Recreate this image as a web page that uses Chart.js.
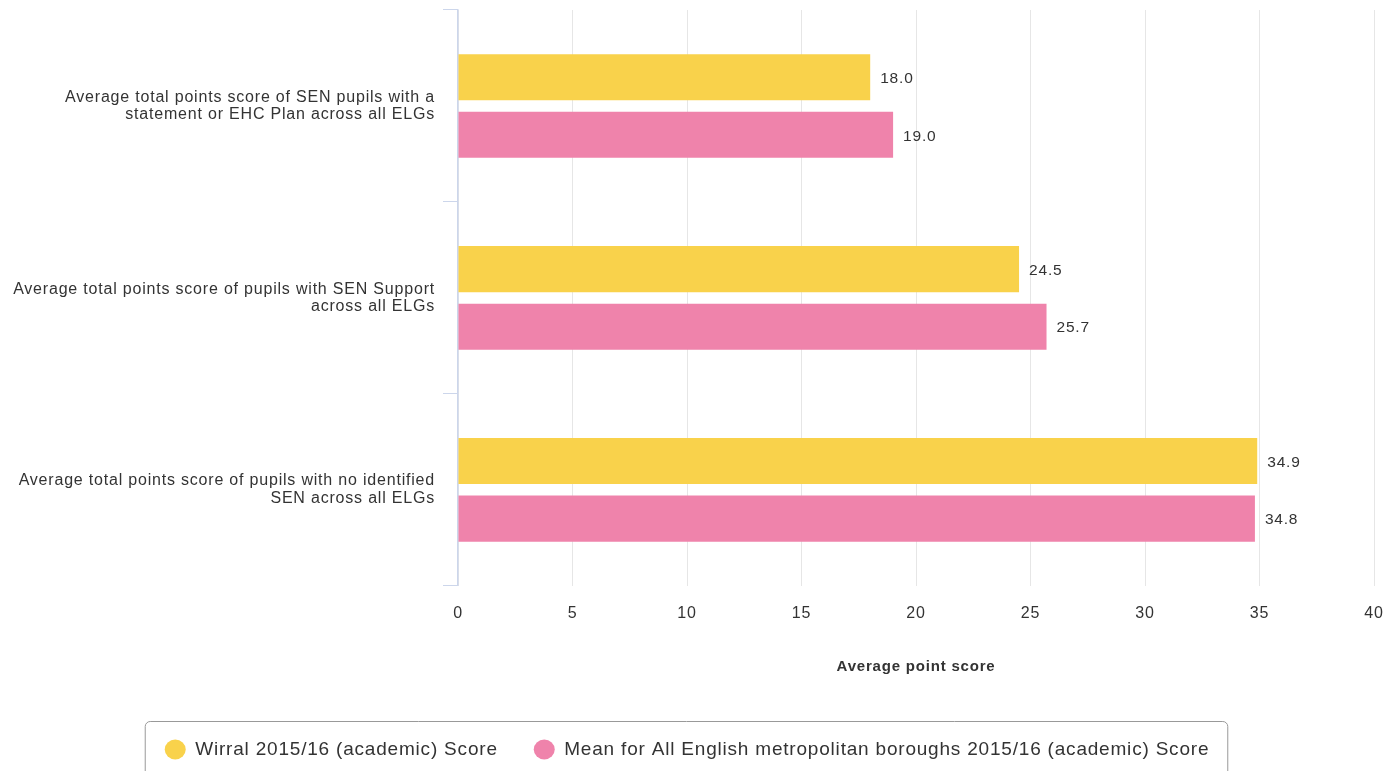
<!DOCTYPE html>
<html>
<head>
<meta charset="utf-8">
<title>Average point score by SEN status</title>
<script src="https://cdn.jsdelivr.net/npm/chart.js@4"></script>
<style>
    html, body { margin: 0; padding: 0; background: #ffffff; overflow: hidden; }
    #wrap { width: 1385px; height: 771px; }
</style>
</head>
<body>
<div id="wrap"><canvas id="chart" width="1385" height="771"></canvas></div>
<script>
// Chart data
const categories = [
    ['Average total points score of SEN pupils with a', 'statement or EHC Plan across all ELGs'],
    ['Average total points score of pupils with SEN Support', 'across all ELGs'],
    ['Average total points score of pupils with no identified', 'SEN across all ELGs']
];
const wirralScores = [18.0, 24.5, 34.9];
const meanScores = [19.0, 25.7, 34.8];
const seriesNames = [
    'Wirral 2015/16 (academic) Score',
    'Mean for All English metropolitan boroughs 2015/16 (academic) Score'
];
const xTicks = [0, 5, 10, 15, 20, 25, 30, 35, 40];

const FONT = '"Liberation Sans", Arial, Helvetica, sans-serif';
const TEXT = '#333333';
const SPACING = '0.8px';

/**
 * Slightly wider text, like the original rendering
 */
const textSpacing = {
    id: 'textSpacing',
    beforeUpdate(chart) { chart.ctx.letterSpacing = SPACING; },
    beforeDraw(chart) { chart.ctx.letterSpacing = SPACING; }
};

/**
 * Draw value labels to the right of each bar
 */
const valueLabels = {
    id: 'valueLabels',
    afterDatasetsDraw(chart) {
        const ctx = chart.ctx;
        ctx.save();
        ctx.font = '15.5px ' + FONT;
        ctx.fillStyle = TEXT;
        ctx.textAlign = 'left';
        ctx.textBaseline = 'middle';
        chart.data.datasets.forEach((ds, i) => {
            chart.getDatasetMeta(i).data.forEach((bar, j) => {
                ctx.fillText(ds.data[j].toFixed(1), bar.x + 10, bar.y + 1.5);
            });
        });
        ctx.restore();
    }
};

/**
 * Rounded frame around the legend items
 */
const legendFrame = {
    id: 'legendFrame',
    afterDraw(chart) {
        const boxes = chart.legend.legendHitBoxes;
        if (!boxes || !boxes.length) return;
        const left = Math.min(...boxes.map(b => b.left)) - 20;
        const right = Math.max(...boxes.map(b => b.left + b.width)) + 18;
        const top = boxes[0].top - 19;
        const ctx = chart.ctx;
        ctx.save();
        ctx.strokeStyle = '#999999';
        ctx.lineWidth = 1;
        ctx.beginPath();
        ctx.roundRect(left + 0.5, top + 0.5, right - left, 100, 5);
        ctx.stroke();
        ctx.restore();
    }
};

new Chart(document.getElementById('chart'), {
    type: 'bar',
    data: {
        labels: categories,
        datasets: [
            {
                label: seriesNames[0],
                data: wirralScores,
                backgroundColor: '#f9d24b',
                borderWidth: 0,
                categoryPercentage: 0.6,
                barPercentage: 0.8
            },
            {
                label: seriesNames[1],
                data: meanScores,
                backgroundColor: '#ef83ab',
                borderWidth: 0,
                categoryPercentage: 0.6,
                barPercentage: 0.8
            }
        ]
    },
    options: {
        indexAxis: 'y',
        responsive: false,
        animation: false,
        layout: { padding: { top: 10, left: 0, right: 11, bottom: 2 } },
        scales: {
            x: {
                min: 0,
                max: 40,
                afterBuildTicks: scale => {
                    scale.ticks = xTicks.map(v => ({ value: v }));
                },
                afterFit: scale => {
                    scale.paddingLeft = 0;
                    scale.paddingRight = 0;
                },
                grid: { color: '#e6e6e6', lineWidth: 1, drawTicks: false },
                border: { display: false },
                ticks: {
                    padding: 18,
                    color: TEXT,
                    font: { family: FONT, size: 16 }
                },
                title: {
                    display: true,
                    text: 'Average point score',
                    color: TEXT,
                    font: { family: FONT, size: 15, weight: 'bold' },
                    padding: { top: 17, bottom: 28 }
                }
            },
            y: {
                afterFit: scale => {
                    scale.width = 458;
                    scale.paddingTop = 0;
                    scale.paddingBottom = 0;
                },
                grid: {
                    offset: true,
                    drawOnChartArea: false,
                    tickLength: 15,
                    color: '#ccd6eb',
                    lineWidth: 1
                },
                border: { color: '#ccd6eb', width: 1.5 },
                ticks: {
                    padding: 8,
                    color: TEXT,
                    font: { family: FONT, size: 16, lineHeight: '17.5px' }
                }
            }
        },
        plugins: {
            legend: {
                position: 'bottom',
                labels: {
                    usePointStyle: true,
                    pointStyle: 'circle',
                    boxHeight: 14,
                    pointStyleWidth: 21,
                    padding: 36,
                    color: TEXT,
                    font: { family: FONT, size: 19 }
                }
            },
            tooltip: { enabled: false }
        }
    },
    plugins: [textSpacing, valueLabels, legendFrame]
});
</script>
</body>
</html>
